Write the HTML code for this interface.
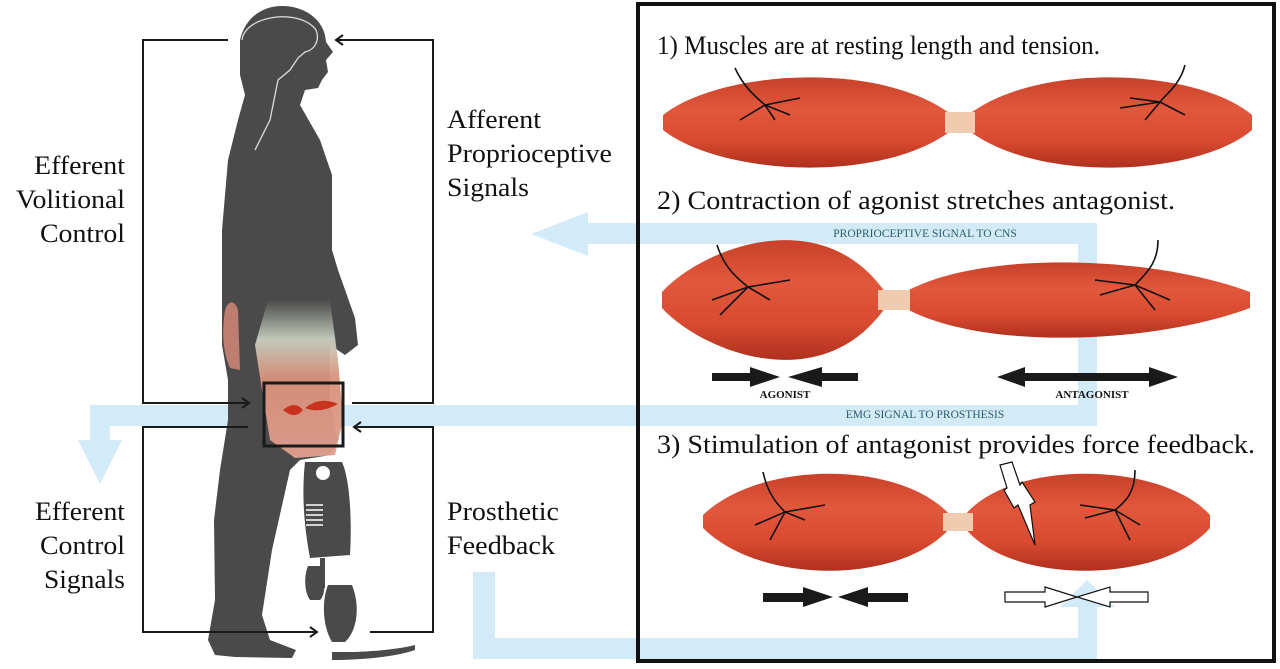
<!DOCTYPE html>
<html><head><meta charset="utf-8"><style>
html,body{margin:0;padding:0;background:#fff;}
body{width:1280px;height:669px;overflow:hidden;position:relative;font-family:"Liberation Serif",serif;}
svg{position:absolute;left:0;top:0;}
</style></head><body>
<svg width="1280" height="669" viewBox="0 0 1280 669" xmlns="http://www.w3.org/2000/svg">
<defs>
<linearGradient id="mg" x1="0" y1="0" x2="0" y2="1">
<stop offset="0" stop-color="#c8402a"/><stop offset="0.35" stop-color="#e2583c"/><stop offset="0.7" stop-color="#d94a30"/><stop offset="1" stop-color="#b0301e"/>
</linearGradient>
<linearGradient id="leg" x1="0" y1="0" x2="0" y2="1">
<stop offset="0" stop-color="#4a4a4a"/><stop offset="0.25" stop-color="#c9cfc0"/><stop offset="0.5" stop-color="#d9907a"/><stop offset="1" stop-color="#e2a090"/>
</linearGradient>
</defs>

<g fill="#d3ebf8">
<rect x="585" y="223" width="512" height="21"/>
<polygon points="531,234 588,212 588,256"/>
<rect x="1078" y="223" width="19" height="202"/>
<rect x="90" y="405" width="1007" height="21"/>
<rect x="90" y="405" width="20" height="45"/>
<polygon points="78,440 122,440 100,484"/>
<rect x="473" y="572" width="22" height="87"/>
<rect x="473" y="638" width="624" height="21"/>
<rect x="1078" y="600" width="19" height="59"/>
<polygon points="1060,607 1115,607 1087,580"/>
</g>

<g fill="#4a4a4a">
<path d="M282,6 C305,6 325,20 326,42 L333,52 L326,60 L328,72 L322,80 L318,88 L305,90 L300,105 L320,140 L332,175 L332,250 L338,270 L355,318 L358,345 L345,355 L330,345 L330,400 L338,440 L330,455 L300,460 L290,470 L272,550 L262,615 L270,640 L296,650 L292,658 L235,657 L215,655 L208,640 L215,600 L214,520 L220,470 L228,420 L228,380 L222,345 L222,230 L228,160 L238,120 L245,95 L240,75 L240,40 C245,18 262,6 282,6 Z"/>
<path d="M305,462 L342,462 C350,480 352,520 350,555 L310,558 C303,520 302,490 305,462 Z"/>
<rect x="320" y="558" width="5" height="30"/>
<path d="M308,566 L320,566 C326,575 326,595 320,600 L310,600 C304,592 304,575 308,566 Z"/>
<path d="M328,585 L352,585 C360,605 358,630 345,642 L332,642 C322,625 322,600 328,585 Z"/>
<path d="M332,652 L345,652 C365,652 395,650 415,645 L415,650 C395,657 360,660 332,660 Z"/>
</g>
<circle cx="323" cy="473" r="7" fill="#fff"/>
<g stroke="#fff" stroke-width="1.5"><line x1="306" y1="505" x2="323" y2="505"/><line x1="306" y1="510" x2="323" y2="510"/><line x1="306" y1="515" x2="323" y2="515"/><line x1="306" y1="520" x2="323" y2="520"/><line x1="306" y1="525" x2="323" y2="525"/></g>
<path d="M242,40 C245,15 300,8 316,30 C320,40 315,50 305,52 L298,58 L290,70 L278,80 L270,120 L255,150" fill="none" stroke="#ddd" stroke-width="1.3"/>
<path d="M268,300 L330,300 L338,360 L343,420 L335,455 L295,458 L270,440 L262,390 L255,345 Z" fill="url(#leg)" opacity="0.95"/>
<path d="M225,310 C228,300 235,300 238,310 L240,370 L230,368 C222,350 222,330 225,310 Z" fill="#d98a78" opacity="0.8"/>
<path d="M283,410 Q295,400 303,410 Q295,420 283,410 Z M305,408 Q320,396 338,404 Q320,414 305,408 Z" fill="#c8321e"/>

<g fill="none" stroke="#1a1a1a" stroke-width="2">
<polyline points="228,40 143,40 143,403 248,403"/>
<polyline points="337,40 433,40 433,403 352,403"/>
<polyline points="248,427 143,427 143,632 315,632"/>
<polyline points="355,427 433,427 433,632 370,632"/>
<polyline points="242,398 249,403 242,408"/>
<polyline points="343,35 336,40 343,45"/>
<polyline points="310,627 317,632 310,637"/>
<polyline points="361,422 354,427 361,432"/>
</g>
<rect x="264" y="383" width="79" height="63" fill="none" stroke="#1a1a1a" stroke-width="3"/>

<g font-size="26" fill="#111">
<text x="34" y="174" textLength="91" lengthAdjust="spacingAndGlyphs">Efferent</text>
<text x="16" y="208" textLength="109" lengthAdjust="spacingAndGlyphs">Volitional</text>
<text x="40" y="242" textLength="85" lengthAdjust="spacingAndGlyphs">Control</text>
<text x="35" y="520" textLength="90" lengthAdjust="spacingAndGlyphs">Efferent</text>
<text x="40" y="554" textLength="85" lengthAdjust="spacingAndGlyphs">Control</text>
<text x="44" y="588" textLength="81" lengthAdjust="spacingAndGlyphs">Signals</text>
<text x="447" y="128" textLength="94" lengthAdjust="spacingAndGlyphs">Afferent</text>
<text x="447" y="162" textLength="165" lengthAdjust="spacingAndGlyphs">Proprioceptive</text>
<text x="447" y="196" textLength="82" lengthAdjust="spacingAndGlyphs">Signals</text>
<text x="447" y="520" textLength="112" lengthAdjust="spacingAndGlyphs">Prosthetic</text>
<text x="447" y="554" textLength="108" lengthAdjust="spacingAndGlyphs">Feedback</text>
</g>

<rect x="638" y="4" width="636" height="657" fill="none" stroke="#111" stroke-width="4"/>
<g font-size="26" fill="#111">
<text x="657" y="54" textLength="443" lengthAdjust="spacingAndGlyphs">1) Muscles are at resting length and tension.</text>
<text x="657" y="209" textLength="518" lengthAdjust="spacingAndGlyphs">2) Contraction of agonist stretches antagonist.</text>
<text x="657" y="453" textLength="598" lengthAdjust="spacingAndGlyphs">3) Stimulation of antagonist provides force feedback.</text>
</g>
<g font-size="11.5" fill="#2a5b6e" text-anchor="middle">
<text x="925" y="237">PROPRIOCEPTIVE SIGNAL TO CNS</text>
<text x="925" y="418">EMG SIGNAL TO PROSTHESIS</text>
</g>

<g fill="url(#mg)">
<path d="M663,115 C720,70 880,60 952,115 L952,130 C880,185 720,175 663,130 Z"/>
<path d="M968,115 C1040,60 1200,70 1252,115 L1252,130 C1200,175 1040,185 968,130 Z"/>
<path d="M662,292 C700,250 820,200 885,292 L885,308 C820,400 700,350 662,308 Z"/>
<path d="M905,292 C980,250 1150,255 1250,292 L1250,308 C1150,345 980,350 905,308 Z"/>
<path d="M703,515 C760,460 900,460 950,515 L950,528 C900,585 760,585 703,528 Z"/>
<path d="M965,515 C1010,460 1160,460 1210,515 L1210,528 C1160,585 1010,585 965,528 Z"/>
</g>
<g fill="#f0cbb0">
<rect x="945" y="112" width="30" height="21"/>
<rect x="878" y="290" width="32" height="20"/>
<rect x="943" y="513" width="30" height="18"/>
</g>
<g fill="none" stroke="#111" stroke-width="1.6">
<path d="M735,68 C745,90 760,100 765,105 L740,120 M765,105 L800,98 M765,105 L790,115 M765,105 L775,120"/>
<path d="M1185,65 C1180,85 1165,95 1160,102 L1130,98 M1160,102 L1185,115 M1160,102 L1145,120 M1160,102 L1120,108"/>
<path d="M717,245 C725,270 740,280 748,287 L712,300 M748,287 L790,280 M748,287 L720,315 M748,287 L770,300"/>
<path d="M1158,240 C1158,260 1150,270 1135,285 L1095,280 M1135,285 L1170,300 M1135,285 L1155,310 M1135,285 L1100,295"/>
<path d="M763,472 C768,495 778,505 785,512 L755,525 M785,512 L825,505 M785,512 L770,540 M785,512 L805,520"/>
<path d="M1135,470 C1135,490 1128,500 1115,510 L1080,505 M1115,510 L1140,525 M1115,510 L1130,540 M1115,510 L1085,518"/>
</g>
<polygon points="1000,465 1012,462 1020,485 1022,482 1035,502 1030,505 1035,545 1018,505 1014,508 1004,490 1007,488" fill="#fff" stroke="#111" stroke-width="1.2"/>

<g fill="#1a1a1a">
<rect x="712" y="373" width="38" height="8"/><polygon points="750,367 780,377 750,387"/>
<rect x="822" y="373" width="36" height="8"/><polygon points="822,367 788,377 822,387"/>
<rect x="1025" y="373" width="124" height="8"/><polygon points="1025,367 997,377 1025,387"/><polygon points="1149,367 1178,377 1149,387"/>
<rect x="763" y="593" width="40" height="9"/><polygon points="803,587 833,597 803,607"/>
<rect x="868" y="593" width="40" height="9"/><polygon points="868,587 838,597 868,607"/>
</g>
<g fill="#fff" stroke="#111" stroke-width="1.2">
<polygon points="1005,592 1045,592 1045,587 1077,597 1045,607 1045,602 1005,602"/>
<polygon points="1148,592 1110,592 1110,587 1077,597 1110,607 1110,602 1148,602"/>
</g>
<g font-size="11" font-weight="bold" fill="#111" text-anchor="middle">
<text x="785" y="398">AGONIST</text><text x="1092" y="398">ANTAGONIST</text>
</g>
</svg>
</body></html>
